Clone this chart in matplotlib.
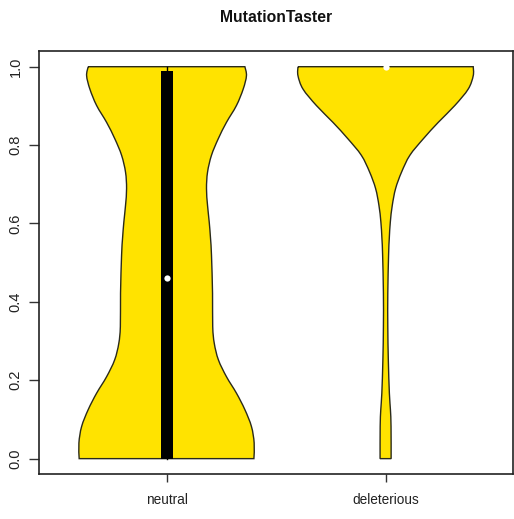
import numpy as np
import matplotlib
matplotlib.use("Agg")
import matplotlib.pyplot as plt
from matplotlib.path import Path
from matplotlib.patches import PathPatch

plt.rcParams["font.family"] = ["Liberation Sans", "DejaVu Sans"]

groups = ["neutral", "deleterious"]

# density profiles (score, relative density) for each group
neutral_score = [1.0, 0.977, 0.943, 0.901, 0.858, 0.816, 0.774, 0.731, 0.689, 0.646,
                 0.604, 0.562, 0.519, 0.422, 0.337, 0.294, 0.252, 0.209, 0.167, 0.125,
                 0.082, 0.040, 0.0]
neutral_dens = [0.894, 0.912, 0.875, 0.798, 0.684, 0.590, 0.513, 0.468, 0.456, 0.468,
                0.487, 0.502, 0.513, 0.525, 0.527, 0.545, 0.592, 0.684, 0.798, 0.894,
                0.969, 1.0, 0.997]

delet_score = [1.0, 0.977, 0.943, 0.901, 0.858, 0.816, 0.774, 0.731, 0.689, 0.646,
               0.604, 0.562, 0.519, 0.422, 0.337, 0.252, 0.167, 0.125, 0.082, 0.0]
delet_dens = [1.0, 1.0, 0.943, 0.790, 0.601, 0.430, 0.277, 0.182, 0.114, 0.076,
              0.054, 0.042, 0.034, 0.025, 0.025, 0.031, 0.043, 0.055, 0.062, 0.063]

# box summaries: lower whisker, q1, median, q3, upper whisker
neutral_stats = [0.0, 0.0, 0.46, 0.99, 1.0]
delet_stats = [1.0, 1.0, 1.0, 1.0, 1.0]

profiles = [(neutral_score, neutral_dens, neutral_stats),
            (delet_score, delet_dens, delet_stats)]

fill = "#FFE300"
half_width = 0.4
box_width = 0.055


def smooth_edge(xs, ys):
    # catmull-rom through the points, emitted as cubic bezier segments
    pts = np.column_stack([xs, ys])
    verts = [pts[0]]
    codes = [Path.MOVETO]
    n = len(pts)
    for i in range(n - 1):
        p0 = pts[max(i - 1, 0)]
        p1 = pts[i]
        p2 = pts[i + 1]
        p3 = pts[min(i + 2, n - 1)]
        c1 = p1 + (p2 - p0) / 6.0
        c2 = p2 - (p3 - p1) / 6.0
        verts += [c1, c2, p2]
        codes += [Path.CURVE4] * 3
    return verts, codes


fig = plt.figure(figsize=(5.14, 5.19), dpi=100)
ax = fig.add_axes([0.0768, 0.0861, 0.9206, 0.8156])

for pos, (score, dens, stats) in enumerate(profiles, start=1):
    score = np.asarray(score)
    dens = np.asarray(dens) * half_width
    lv, lc = smooth_edge(pos - dens, score)
    rv, rc = smooth_edge((pos + dens)[::-1], score[::-1])
    verts = lv + [rv[0]] + rv[1:] + [lv[0]]
    codes = lc + [Path.LINETO] + rc[1:] + [Path.LINETO]
    patch = PathPatch(Path(verts, codes), facecolor=fill, edgecolor="#2a2a1a",
                      linewidth=1.0, zorder=2)
    ax.add_patch(patch)
    lo, q1, med, q3, hi = stats
    ax.plot([pos, pos], [lo, hi], color="black", linewidth=1.0, zorder=3)
    ax.fill([pos - box_width / 2, pos + box_width / 2, pos + box_width / 2, pos - box_width / 2],
            [q1, q1, q3, q3], color="black", linewidth=0, zorder=3)
    ax.plot(pos, med, "o", color="white", markersize=4.5, markeredgewidth=0, zorder=4)

ax.set_xlim(0.42, 2.58)
ax.set_ylim(-0.04, 1.04)
ax.set_xticks([1, 2])
ax.set_xticklabels(groups)
ax.set_yticks(np.arange(0, 1.01, 0.2))
ax.set_yticklabels([f"{v:.1f}" for v in np.arange(0, 1.01, 0.2)],
                   rotation=90, va="center")

for spine in ax.spines.values():
    spine.set_color("#222222")
    spine.set_linewidth(1.2)

ax.tick_params(axis="x", length=5.5, width=1.0, pad=8, labelsize=9.8,
               color="#333333", labelcolor="#222222")
ax.tick_params(axis="y", length=7, width=1.0, pad=5, labelsize=10.5,
               color="#333333", labelcolor="#222222")

fig.text(0.537, 0.967, "MutationTaster", ha="center", va="center",
         fontsize=11.3, fontweight="bold", color="#111111")

fig.savefig("out.png", dpi=100)
